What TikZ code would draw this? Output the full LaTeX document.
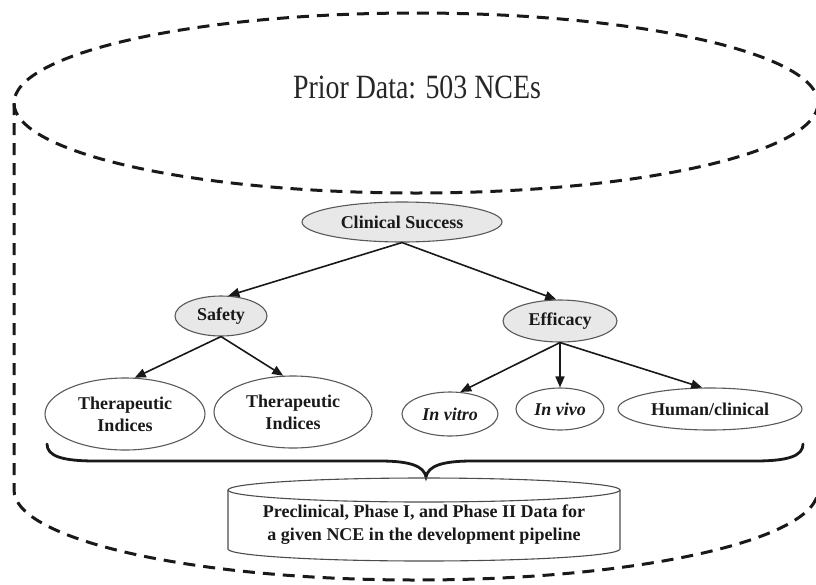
\documentclass[tikz,border=0pt]{standalone}
\usepackage{fontspec}
\setmainfont{Liberation Serif}
\usetikzlibrary{shapes.geometric,arrows.meta}
\begin{document}
\begin{tikzpicture}[x=1pt,y=-1pt,
  bigdash/.style={line width=3pt, dash pattern=on 12pt off 8pt, black!90},
  oval/.style={ellipse, draw=black!65, line width=1.1pt, inner sep=0pt,
    font=\fontsize{18}{22}\selectfont\bfseries, text=black!90, align=center},
  grayoval/.style={oval, fill=black!9},
  arr/.style={-{Triangle[length=11pt,width=9pt]}, line width=1.6pt, black!90},
  cylline/.style={draw=black!70, line width=1.1pt},
  bracestyle/.style={line width=2.8pt, black!90, line cap=round}
  ]
\useasboundingbox (0,0) rectangle (816,584);

% big dashed cylinder
\draw[bigdash] (416,103) ellipse [x radius=402, y radius=90];
\draw[bigdash] (14,103) -- (14,490)
  arc [start angle=180, end angle=0, x radius=402, y radius=90] -- (818,103);
\node[font=\fontsize{34}{36}\selectfont, text=black!85, inner sep=0pt] (prior) at (417,87)
  {\scalebox{0.82}[1]{Prior Data: 503 NCEs}};

% tree nodes
\node[grayoval, minimum width=200pt, minimum height=40pt] (cs) at (402,222) {Clinical Success};
\node[grayoval, minimum width=92pt, minimum height=40pt] (safety) at (221,316) {Safety};
\node[grayoval, minimum width=114pt, minimum height=42pt] (efficacy) at (560,321) {Efficacy};
\node[oval, minimum width=160pt, minimum height=72pt] (lther) at (125,414) {Therapeutic\\Indices};
\node[oval, minimum width=158pt, minimum height=72pt] (rther) at (293,412) {Therapeutic\\Indices};
\node[oval, minimum width=96pt, minimum height=44pt] (invitro) at (450,414) {\itshape In vitro};
\node[oval, minimum width=88pt, minimum height=42pt] (invivo) at (560,409) {\itshape In vivo};
\node[oval, minimum width=184pt, minimum height=42pt] (human) at (710,409) {Human/clinical};

% arrows
\draw[arr] (cs.south) -- (safety.70);
\draw[arr] (cs.south) -- (efficacy.100);
\draw[arr] (safety.south) -- (lther.75);
\draw[arr] (safety.south) -- (rther.105);
\draw[arr] (efficacy.south) -- (invitro.65);
\draw[arr] (efficacy.south) -- (invivo.north);
\draw[arr] (efficacy.south) -- (human.110);

% brace
\coordinate (bracetip) at (426,477);
\draw[bracestyle] (47,444) .. controls (47,456) and (62,461) .. (95,461) -- (380,461)
  .. controls (410,461) and (424,466) .. (bracetip)
  .. controls (428,466) and (442,461) .. (472,461) -- (755,461)
  .. controls (788,461) and (803,456) .. (803,444);

% small cylinder
\draw[cylline] (424,490) ellipse [x radius=196, y radius=12];
\draw[cylline] (228,490) -- (228,549)
  arc [start angle=180, end angle=0, x radius=196, y radius=12] -- (620,490);
\node[font=\fontsize{18}{23}\selectfont\bfseries, text=black!90, align=center] (data) at (424,525)
  {Preclinical, Phase I, and Phase II Data for\\a given NCE in the development pipeline};
\end{tikzpicture}
\end{document}
